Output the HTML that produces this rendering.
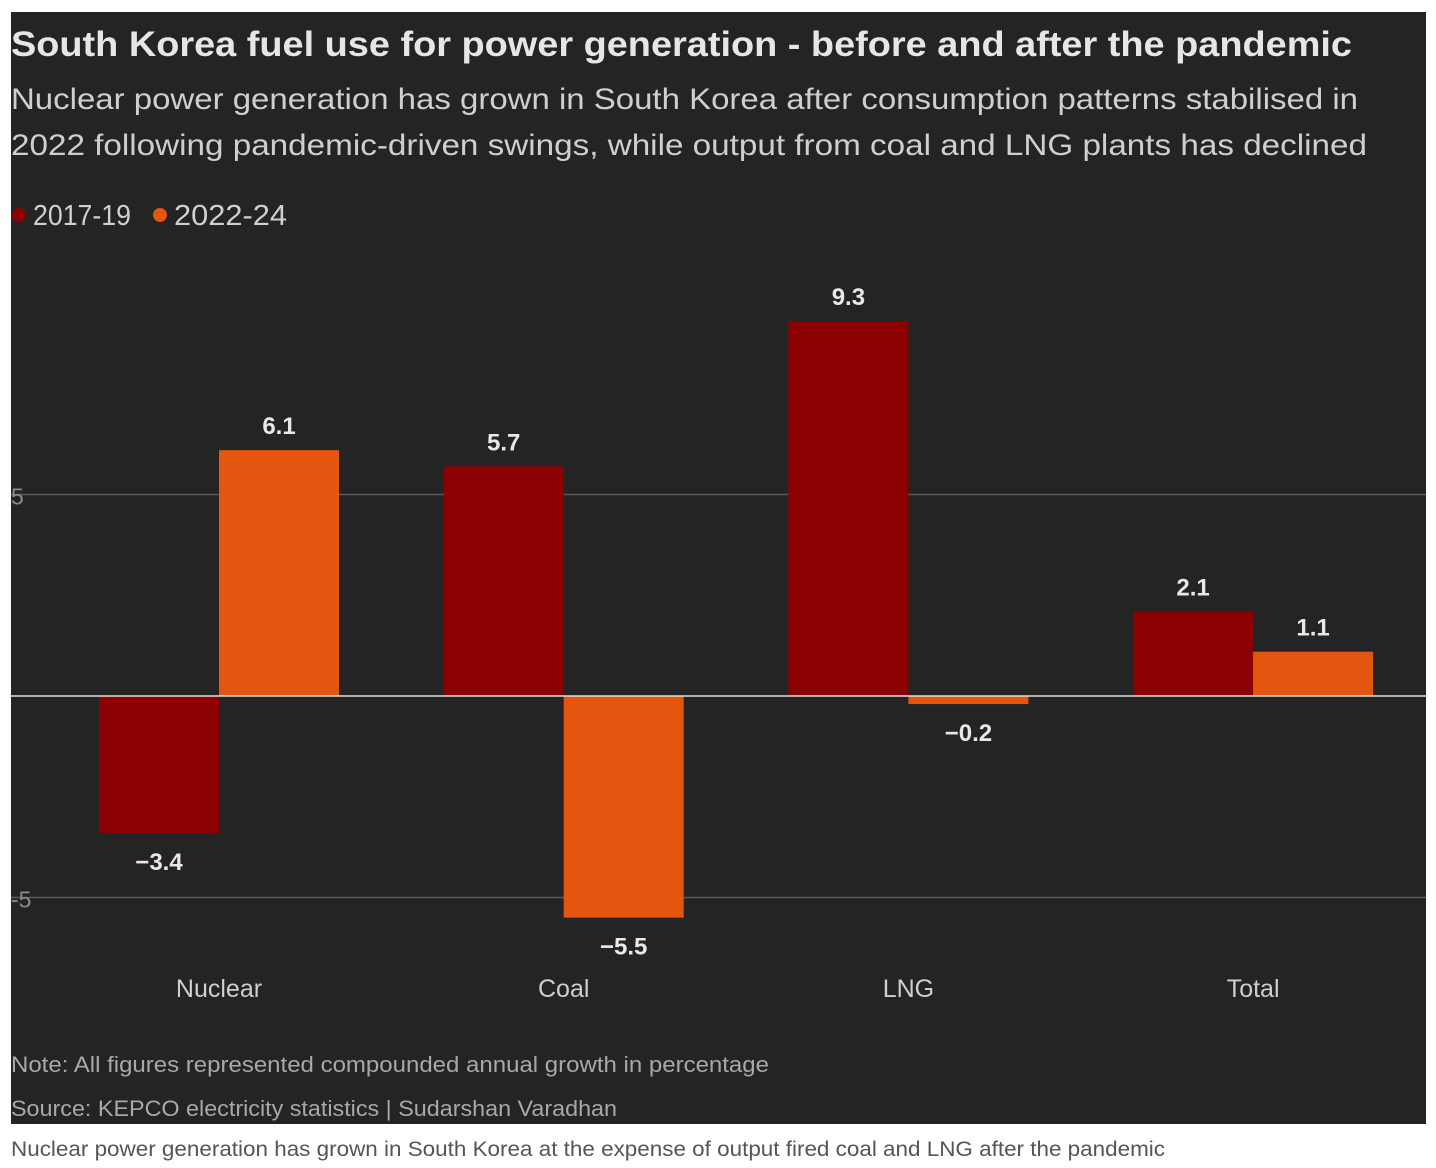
<!DOCTYPE html>
<html><head><meta charset="utf-8"><style>
html,body{margin:0;padding:0;background:#fff;width:1436px;height:1168px;overflow:hidden}
svg{display:block;font-family:"Liberation Sans",sans-serif}
</style></head><body>
<svg id="chart" width="1436" height="1168">
<rect x="11" y="12" width="1415" height="1112" fill="#242424"/>
<text x="11" y="56" font-size="35" font-weight="bold" fill="#e6e6e6" textLength="1341" lengthAdjust="spacingAndGlyphs">South Korea fuel use for power generation - before and after the pandemic</text>
<text x="11" y="109" font-size="30" fill="#cfcfcf" textLength="1347" lengthAdjust="spacingAndGlyphs">Nuclear power generation has grown in South Korea after consumption patterns stabilised in</text>
<text x="11" y="155" font-size="30" fill="#cfcfcf" textLength="1356" lengthAdjust="spacingAndGlyphs">2022 following pandemic-driven swings, while output from coal and LNG plants has declined</text>
<g>
<circle cx="19" cy="215" r="7" fill="#8b0000"/>
<text x="33" y="225" font-size="29" fill="#d0d0d0" textLength="98" lengthAdjust="spacingAndGlyphs">2017-19</text>
<circle cx="160" cy="215" r="7" fill="#e4560f"/>
<text x="174" y="225" font-size="29" fill="#d0d0d0" textLength="113" lengthAdjust="spacingAndGlyphs">2022-24</text>
</g>
<g id="grid"></g>
<g id="bars"></g>
<g id="labels"></g>
<text x="11" y="1072" font-size="22" fill="#a8a8a8" textLength="758" lengthAdjust="spacingAndGlyphs">Note: All figures represented compounded annual growth in percentage</text>
<text x="11" y="1116" font-size="22" fill="#a8a8a8" textLength="606" lengthAdjust="spacingAndGlyphs">Source: KEPCO electricity statistics | Sudarshan Varadhan</text>
<text x="11" y="1156" font-size="21" fill="#555" textLength="1154" lengthAdjust="spacingAndGlyphs">Nuclear power generation has grown in South Korea at the expense of output fired coal and LNG after the pandemic</text>
</svg>
<script>
const categories = ["Nuclear", "Coal", "LNG", "Total"];
const series2017 = [-3.4, 5.7, 9.3, 2.1];
const series2022 = [6.1, -5.5, -0.2, 1.1];
const yTicks = [5, -5];
const NS = "http://www.w3.org/2000/svg";
const zeroY = 696, pxPerUnit = 40.3;
function y(v){ return zeroY - v * pxPerUnit; }
function xCenter(i){ return 219 + i * 344.7; }
const barW = 120;
function mk(tag, attrs, parent){ const e = document.createElementNS(NS, tag); for (const k in attrs) e.setAttribute(k, attrs[k]); parent.appendChild(e); return e; }
const grid = document.getElementById("grid"), bars = document.getElementById("bars"), labels = document.getElementById("labels");
yTicks.forEach(t => {
  const l = mk("line", {x1: 11, x2: 1426, y1: y(t), y2: y(t), stroke: "#5a5a5a", "stroke-width": 1.5}, grid);
  
  
  const tx = mk("text", {x: 11, y: y(t) + 10, "font-size": 23, fill: "#8a8a8a"}, grid);
  tx.textContent = t < 0 ? "-" + Math.abs(t) : String(t);
  
  
});
function fmt(v){ return v < 0 ? "\u2212" + Math.abs(v).toFixed(1) : v.toFixed(1); }
[[series2017, "#8b0000", -1], [series2022, "#e4560f", 0]].forEach(([vals, col, off]) => {
  vals.forEach((v, i) => {
    const x0 = xCenter(i) + off * barW;
    const top = Math.min(y(v), zeroY), h = Math.abs(y(v) - zeroY);
    const r = mk("rect", {x: x0, y: top, width: barW, height: h, fill: col}, bars);
    
    
    const ly = v >= 0 ? y(v) - 16 : y(v) + 37;
    const t = mk("text", {x: x0 + barW / 2, y: ly, "font-size": 24, "font-weight": "bold", fill: "#e8e8e8", "text-anchor": "middle"}, labels);
    t.textContent = fmt(v);
    
    
  });
});
const zl = mk("line", {x1: 11, x2: 1426, y1: zeroY, y2: zeroY, stroke: "#e0e0e0", "stroke-width": 1.5}, grid.parentNode);


categories.forEach((c, i) => {
  const t = mk("text", {x: xCenter(i), y: 997, "font-size": 25, fill: "#cfcfcf", "text-anchor": "middle"}, labels);
  t.textContent = c;
  
  
});
</script>
</body></html>
